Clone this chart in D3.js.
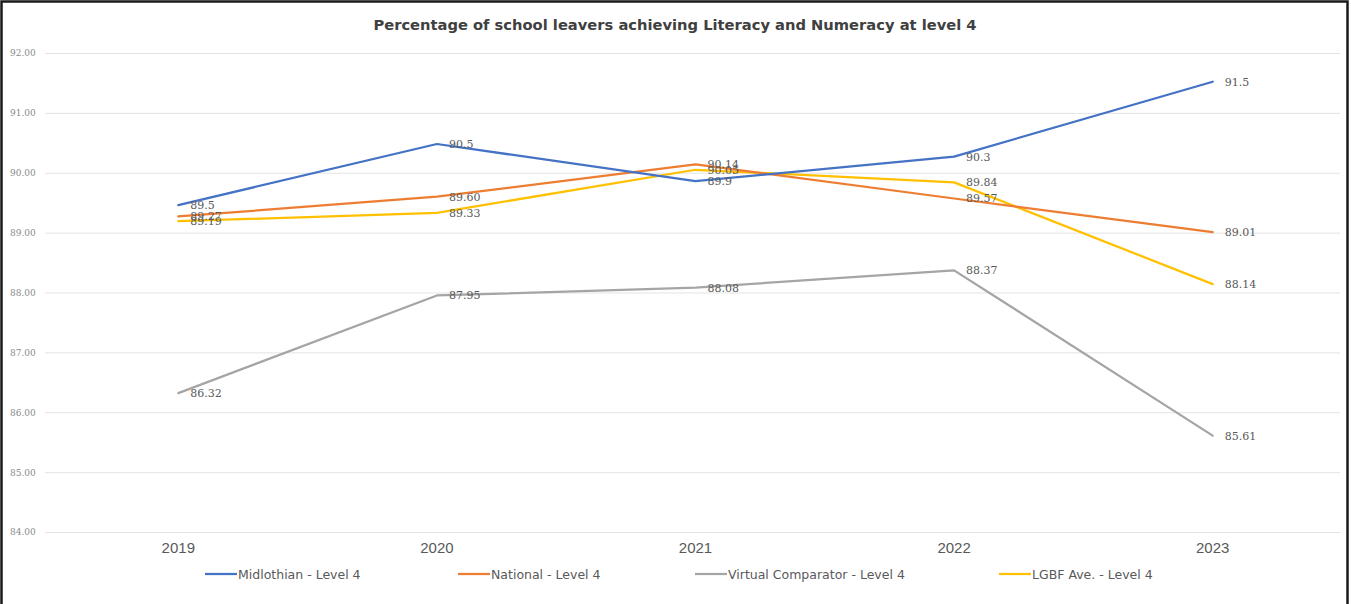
<!DOCTYPE html>
<html><head><meta charset="utf-8">
<script src="https://cdn.jsdelivr.net/npm/d3@7/dist/d3.min.js"></script>
<style>body{margin:0;background:#fff}svg{display:block}</style>
</head><body>
<svg id="c" width="1351" height="604"></svg>
<script>
const years = ["2019","2020","2021","2022","2023"];
const midlothian = [89.46, 90.48, 89.86, 90.27, 91.52];
const national = [89.27, 89.60, 90.14, 89.57, 89.01];
const virtualComparator = [86.32, 87.95, 88.08, 88.37, 85.61];
const lgbf = [89.19, 89.33, 90.05, 89.84, 88.14];
const yTicks = [84, 85, 86, 87, 88, 89, 90, 91, 92];
const seriesNames = ["Midlothian - Level 4", "National - Level 4", "Virtual Comparator - Level 4", "LGBF Ave. - Level 4"];
const title = "Percentage of school leavers achieving Literacy and Numeracy at level 4";

const series = [
  {name: seriesNames[0], values: midlothian, color: "#4472C4", fmt: d3.format(".1f")},
  {name: seriesNames[1], values: national, color: "#ED7D31", fmt: d3.format(".2f")},
  {name: seriesNames[2], values: virtualComparator, color: "#A5A5A5", fmt: d3.format(".2f")},
  {name: seriesNames[3], values: lgbf, color: "#FFC000", fmt: d3.format(".2f")}
];

const svg = d3.select("#c");
svg.append("rect").attr("x",1.5).attr("y",1.5).attr("width",1346).attr("height",620)
  .attr("fill","#fff").attr("stroke","#1a1a1a").attr("stroke-width",2.5);

const x = d3.scaleBand().domain(years).range([49, 1342]);
const cx = d => x(d) + x.bandwidth()/2;
const y = d3.scaleLinear().domain([84, 92]).range([532, 53]);

// grid
const yAxis = d3.axisLeft(y).tickValues(yTicks).tickFormat(d3.format(".2f")).tickSize(-1295).tickPadding(10);
const ga = svg.append("g").attr("transform","translate(45,0)").call(yAxis);
ga.select(".domain").remove();
ga.selectAll(".tick line").attr("stroke","#e3e3e3").attr("stroke-width",1);
ga.selectAll(".tick text").attr("fill","#8a8a8a").attr("font-family","DejaVu Serif, serif").attr("font-size",9).attr("text-anchor","start").attr("x",-35);

// x axis labels
const xAxis = d3.axisBottom(x).tickSize(0).tickPadding(9);
const gx = svg.append("g").attr("transform","translate(0,533)").call(xAxis);
gx.select(".domain").remove();
gx.selectAll(".tick text").attr("fill","#595959").attr("font-family","Liberation Sans Narrow, Liberation Sans, sans-serif").attr("font-size",15);

// title
svg.append("text").attr("x",675).attr("y",30).attr("text-anchor","middle")
  .attr("font-family","DejaVu Sans, sans-serif").attr("font-weight","bold").attr("font-size",14.7)
  .attr("fill","#404040").text(title);

const line = d3.line().x((d,i)=>cx(years[i])).y(d=>y(d));
const order = [2,3,1,0];
order.forEach(k=>{
  const s = series[k];
  svg.append("path").datum(s.values).attr("d",line).attr("fill","none")
    .attr("stroke",s.color).attr("stroke-width",2.25).attr("stroke-linejoin","round").attr("stroke-linecap","round");
});
series.forEach(s=>{
  svg.append("g").selectAll("text").data(s.values).join("text")
    .attr("x",(d,i)=>cx(years[i])+12).attr("y",d=>y(d)+4)
    .attr("font-family","DejaVu Serif, serif").attr("font-size",11).attr("fill","#595959")
    .text(d=>s.fmt(d));
});

// legend
const legX = [205, 458, 695, 999];
series.forEach((s,i)=>{
  const g = svg.append("g").attr("transform",`translate(${legX[i]},574)`);
  g.append("line").attr("x1",0).attr("x2",32).attr("y1",0).attr("y2",0).attr("stroke",s.color).attr("stroke-width",2.25);
  g.append("text").attr("x",33).attr("y",4.5).attr("font-family","DejaVu Sans, sans-serif")
    .attr("font-size",12.5).attr("fill","#595959").text(s.name);
});
</script>
</body></html>
